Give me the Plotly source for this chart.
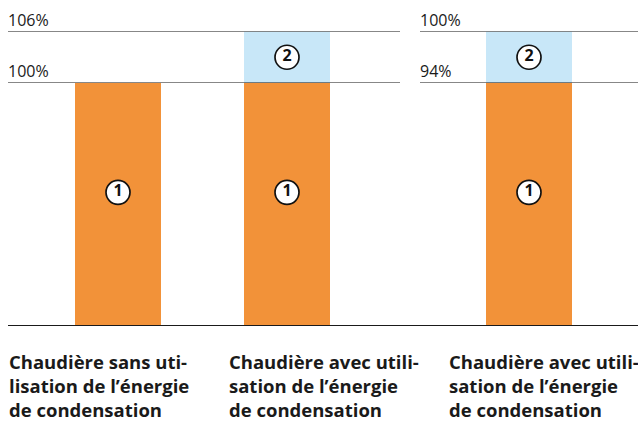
import plotly.graph_objects as go

# ---- data ----
left_categories = ["Chaudière sans uti-<br>lisation de l’énergie<br>de condensation",
                   "Chaudière avec utili-<br>sation de l’énergie<br>de condensation"]
right_categories = ["Chaudière avec utili-<br>sation de l’énergie<br>de condensation"]
left_base = [100, 100]      # segment ① (%)
left_gain = [0, 6]          # segment ② (%)
right_base = [94]
right_gain = [6]
left_ticks = [100, 106]
left_ticktext = ["100%", "106%"]
right_ticks = [94, 100]
right_ticktext = ["94%", "100%"]
seg_labels = ["1", "2"]

ORANGE = "#f29239"
BLUE = "#c8e7f8"
INK = "#1a1a1a"
W, H = 638, 423

def px(x):
    return x / W

def py(y):
    return 1 - y / H

y_top, y_mid, y_base = 31.5, 83, 326
left_dom = [px(8), px(400)]
right_dom = [px(420), 1.0]
unit = 169.0  # px per category step
bar_w = 86 / unit

fig = go.Figure()

lx = list(range(len(left_categories)))
rx = list(range(len(right_categories)))

# orange segments
fig.add_trace(go.Bar(x=lx, y=left_base, marker=dict(color=ORANGE, line_width=0),
                     width=bar_w, xaxis="x", yaxis="y", hoverinfo="skip"))
fig.add_trace(go.Bar(x=rx, y=right_base, marker=dict(color=ORANGE, line_width=0),
                     width=bar_w, xaxis="x3", yaxis="y3", hoverinfo="skip"))
# blue segments
fig.add_trace(go.Bar(x=lx, y=left_gain, base=left_base, marker=dict(color=BLUE, line_width=0),
                     width=bar_w, xaxis="x2", yaxis="y2", hoverinfo="skip"))
fig.add_trace(go.Bar(x=rx, y=right_gain, base=right_base, marker=dict(color=BLUE, line_width=0),
                     width=bar_w, xaxis="x4", yaxis="y4", hoverinfo="skip"))

marker_style = dict(symbol="circle", size=24, color="white", line=dict(color="#111111", width=1.7))
text_font = dict(family="Open Sans", size=16, color="#111111", weight="bold")

# circle labels ①
fig.add_trace(go.Scatter(x=lx, y=[b * 0.55 for b in left_base], mode="markers+text",
                         text=[seg_labels[0]] * len(lx), textposition="middle center",
                         marker=marker_style, textfont=text_font, xaxis="x", yaxis="y",
                         hoverinfo="skip", cliponaxis=False))
fig.add_trace(go.Scatter(x=rx, y=[b * 0.55 for b in right_base], mode="markers+text",
                         text=[seg_labels[0]] * len(rx), textposition="middle center",
                         marker=marker_style, textfont=text_font, xaxis="x3", yaxis="y3",
                         hoverinfo="skip", cliponaxis=False))
# circle labels ②
lg = [(x, b + g / 2) for x, b, g in zip(lx, left_base, left_gain) if g > 0]
fig.add_trace(go.Scatter(x=[p[0] for p in lg], y=[p[1] for p in lg], mode="markers+text",
                         text=[seg_labels[1]] * len(lg), textposition="middle center",
                         marker=marker_style, textfont=text_font, xaxis="x2", yaxis="y2",
                         hoverinfo="skip", cliponaxis=False))
rg = [(x, b + g / 2) for x, b, g in zip(rx, right_base, right_gain) if g > 0]
fig.add_trace(go.Scatter(x=[p[0] for p in rg], y=[p[1] for p in rg], mode="markers+text",
                         text=[seg_labels[1]] * len(rg), textposition="middle center",
                         marker=marker_style, textfont=text_font, xaxis="x4", yaxis="y4",
                         hoverinfo="skip", cliponaxis=False))

left_xrange = [-(118 - 8) / unit, len(lx) - 1 + (400 - 287) / unit]
right_xrange = [-(529 - 420) / unit, (638 - 529) / unit]

xcommon = dict(showgrid=False, zeroline=False, showticklabels=False, showline=False, fixedrange=True)
ycommon = dict(showgrid=False, zeroline=False, showline=False, fixedrange=True, ticks="",
               showticklabels=False)

fig.update_layout(
    xaxis=dict(domain=left_dom, range=left_xrange, anchor="y", **xcommon),
    xaxis2=dict(domain=left_dom, range=left_xrange, anchor="y2", **xcommon),
    xaxis3=dict(domain=right_dom, range=right_xrange, anchor="y3", **xcommon),
    xaxis4=dict(domain=right_dom, range=right_xrange, anchor="y4", **xcommon),
    yaxis=dict(domain=[py(y_base), py(y_mid)], range=[0, max(left_base)], anchor="x", **ycommon),
    yaxis2=dict(domain=[py(y_mid), py(y_top)],
                range=[max(left_base), max(b + g for b, g in zip(left_base, left_gain))],
                anchor="x2", **ycommon),
    yaxis3=dict(domain=[py(y_base), py(y_mid)], range=[0, max(right_base)], anchor="x3", **ycommon),
    yaxis4=dict(domain=[py(y_mid), py(y_top)],
                range=[max(right_base), max(b + g for b, g in zip(right_base, right_gain))],
                anchor="x4", **ycommon),
    barmode="overlay",
    showlegend=False,
    width=W, height=H,
    margin=dict(l=0, r=0, t=0, b=0),
    paper_bgcolor="white",
    plot_bgcolor="rgba(0,0,0,0)",
)

shapes = []
annotations = []
tick_font = dict(family="Open Sans", size=16, color=INK)
for t, tt in zip(left_ticks, left_ticktext):
    shapes.append(dict(type="line", xref="x2 domain", x0=0, x1=1, yref="y2", y0=t, y1=t,
                       line=dict(color="#111111", width=1.2)))
    annotations.append(dict(text=tt, xref="x2 domain", x=0, yref="y2", y=t, xanchor="left",
                            yanchor="bottom", showarrow=False, font=tick_font, borderpad=0,
                            xshift=-1))
for t, tt in zip(right_ticks, right_ticktext):
    shapes.append(dict(type="line", xref="x4 domain", x0=0, x1=1, yref="y4", y0=t, y1=t,
                       line=dict(color="#111111", width=1.2)))
    annotations.append(dict(text=tt, xref="x4 domain", x=0, yref="y4", y=t, xanchor="left",
                            yanchor="bottom", showarrow=False, font=tick_font, borderpad=0,
                            xshift=-1))
shapes.append(dict(type="line", xref="paper", x0=px(8), x1=1, yref="y", y0=0, y1=0,
                   line=dict(color=INK, width=2.2)))
fig.update_layout(shapes=shapes)

cat_font = dict(family="Open Sans", size=18.5, color=INK, weight="bold")
label_x = [px(8), px(228)]
for lab, x in zip(left_categories, label_x):
    annotations.append(dict(text=lab, xref="paper", yref="paper", x=x, y=py(348),
                            xanchor="left", yanchor="top", align="left", showarrow=False,
                            font=cat_font, borderpad=0))
for lab in right_categories:
    annotations.append(dict(text=lab, xref="paper", yref="paper", x=px(448), y=py(348),
                            xanchor="left", yanchor="top", align="left", showarrow=False,
                            font=cat_font, borderpad=0))
fig.update_layout(annotations=annotations)

fig.write_html("out.html", config={"displayModeBar": False},
               post_script="document.body.style.margin='0px';document.body.style.overflow='hidden';")
